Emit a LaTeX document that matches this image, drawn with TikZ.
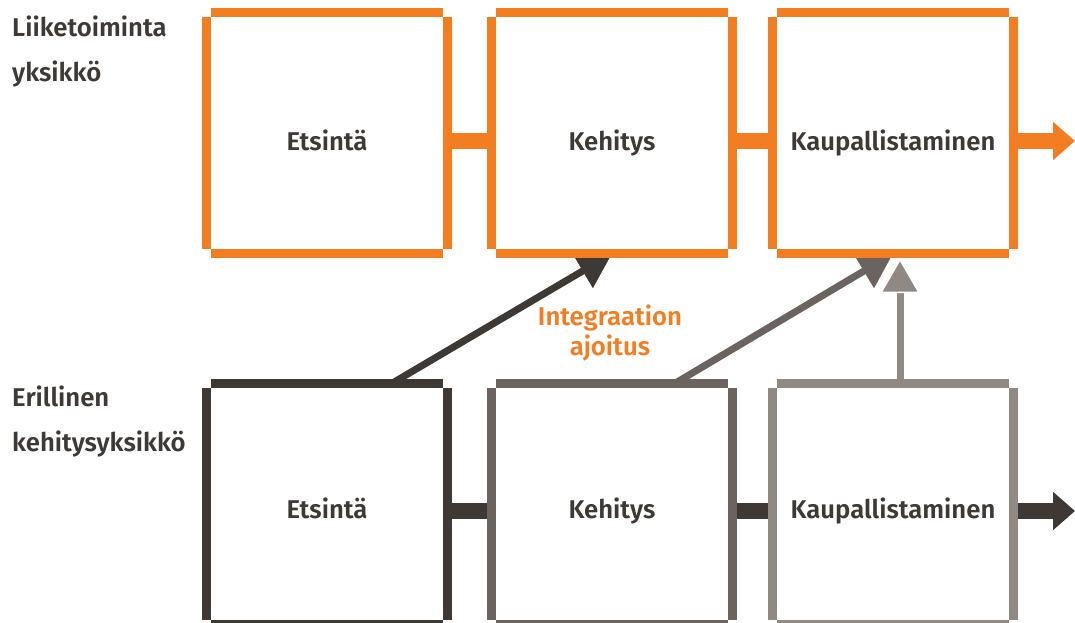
\documentclass[tikz,border=0pt]{standalone}
\usepackage{fontspec}
\setmainfont{Fira Sans}[BoldFont={Fira Sans SemiBold}]
\usetikzlibrary{arrows.meta}

\definecolor{orng}{HTML}{F37E22}
\definecolor{dgrey}{HTML}{3E3935}
\definecolor{mgrey}{HTML}{6A6360}
\definecolor{lgrey}{HTML}{8F8883}

\tikzset{
  stage/.style={minimum width=241pt, minimum height=241pt, inner sep=0pt},
  stagetext/.style={font=\bfseries\fontsize{25.7}{30}\selectfont, text=dgrey, anchor=base},
  side/.style={line width=9pt},
  link/.style={line width=16pt},
  feed/.style={line width=7pt, -{Triangle[length=34pt,width=38pt]}},
  rowlabel/.style={font=\bfseries\fontsize{25.7}{45}\selectfont, text=dgrey,
    align=left, inner sep=0pt, anchor=north west},
}

% four separate sides, corners left open
\newcommand\stagesides[2]{%
  \draw[side,#2] ([xshift=4.5pt]#1.north west) -- ([xshift=-4.5pt]#1.north east);
  \draw[side,#2] ([xshift=4.5pt]#1.south west) -- ([xshift=-4.5pt]#1.south east);
  \draw[side,#2] ([yshift=-4.5pt]#1.north west) -- ([yshift=4.5pt]#1.south west);
  \draw[side,#2] ([yshift=-4.5pt]#1.north east) -- ([yshift=4.5pt]#1.south east);
}

\begin{document}
\begin{tikzpicture}[x=1pt,y=-1pt]
  \useasboundingbox (0,0) rectangle (1075,623);
%%
  % Node: upper row
  \node[stage] (e1) at (327,133) {};
  \node[stage] (k1) at (612,133) {};
  \node[stage] (p1) at (893,133) {};
  \node[stagetext] (e1t) at ([yshift=-17pt]e1.center) {Etsintä};
  \node[stagetext] (k1t) at ([yshift=-17pt]k1.center) {Kehitys};
  \node[stagetext] (p1t) at ([yshift=-17pt]p1.center) {Kaupallistaminen};
  % Node: lower row
  \node[stage] (e2) at (327,504) {};
  \node[stage] (k2) at (612,504) {};
  \node[stage] (p2) at (893,504) {};
  \node[stagetext] (e2t) at ([yshift=-14pt]e2.center) {Etsintä};
  \node[stagetext] (k2t) at ([yshift=-14pt]k2.center) {Kehitys};
  \node[stagetext] (p2t) at ([yshift=-14pt]p2.center) {Kaupallistaminen};
  \coordinate (out1) at (1075,141);
  \coordinate (out2) at (1075,511);
  % Node: row labels
  \node[rowlabel] (liike) at (12,16) {Liiketoiminta\\yksikkö};
  \node[rowlabel] (erill) at (12,386) {Erillinen\\kehitysyksikkö};
  \node[font=\bfseries\fontsize{25.7}{30}\selectfont, text=orng, align=center]
    (ajoitus) at (610,333) {Integraation\\ajoitus};
%
  % Edge: upper row
  \draw[link,orng] (e1.east |- out1) -- (k1.west |- out1);
  \draw[link,orng] (k1.east |- out1) -- (p1.west |- out1);
  \draw[link,orng,-{Triangle[length=22pt,width=37pt]}] (p1.east |- out1) -- (out1);
  % Edge: lower row
  \draw[link,dgrey] (e2.east |- out2) -- (k2.west |- out2);
  \draw[link,dgrey] (k2.east |- out2) -- (p2.west |- out2);
  \draw[link,dgrey,-{Triangle[length=22pt,width=37pt]}] (p2.east |- out2) -- (out2);
  % Edge: lower -> upper
  \draw[feed,dgrey] ([xshift=65pt]e2.north) -- (k1.south);
  \draw[feed,mgrey] ([xshift=63pt]k2.north) -- (p1.south);
  \draw[line width=7pt,lgrey,
    -{Triangle[length=35pt,width=40pt,fill=lgrey,color=white,line width=1.5pt]}]
    ([xshift=7pt]p2.north) -- ([xshift=7pt,yshift=-4.5pt]p1.south);
%
  % Node: box sides
  \stagesides{e1}{orng}
  \stagesides{k1}{orng}
  \stagesides{p1}{orng}
  \stagesides{e2}{dgrey}
  \stagesides{k2}{mgrey}
  \stagesides{p2}{lgrey}
%
\end{tikzpicture}
\end{document}
